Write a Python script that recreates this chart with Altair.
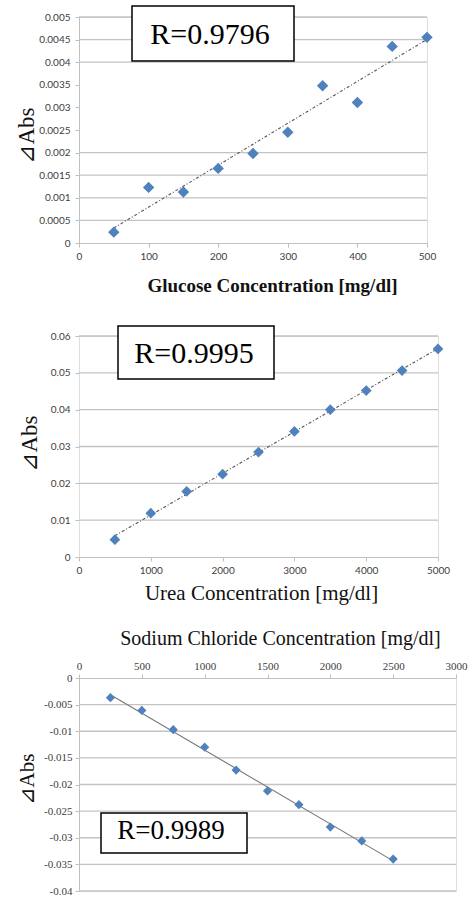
import altair as alt
import pandas as pd

# ---------------- data ----------------
glucose_x = [50, 100, 150, 200, 250, 300, 350, 400, 450, 500]
glucose_y = [0.00024, 0.00123, 0.00113, 0.00165, 0.00198, 0.00245, 0.00348, 0.00311, 0.00435, 0.00455]

urea_x = [500, 1000, 1500, 2000, 2500, 3000, 3500, 4000, 4500, 5000]
urea_y = [0.0047, 0.0119, 0.0178, 0.0225, 0.0285, 0.0341, 0.0400, 0.0452, 0.0506, 0.0565]

nacl_x = [250, 500, 750, 1000, 1250, 1500, 1750, 2000, 2250, 2500]
nacl_y = [-0.0037, -0.0061, -0.0097, -0.0130, -0.0173, -0.0212, -0.0238, -0.0280, -0.0306, -0.0340]

glucose_yticks = [0, 0.0005, 0.001, 0.0015, 0.002, 0.0025, 0.003, 0.0035, 0.004, 0.0045, 0.005]
glucose_grid = [0.0005, 0.001, 0.0015, 0.002, 0.004, 0.0045, 0.005]
glucose_xticks = [0, 100, 200, 300, 400, 500]

urea_yticks = [0, 0.01, 0.02, 0.03, 0.04, 0.05, 0.06]
urea_grid = [0.01, 0.02, 0.03, 0.04, 0.05, 0.06]
urea_xticks = [0, 1000, 2000, 3000, 4000, 5000]

nacl_yticks = [0, -0.005, -0.01, -0.015, -0.02, -0.025, -0.03, -0.035, -0.04]
nacl_grid = [-0.005, -0.01, -0.015, -0.02, -0.025, -0.03, -0.035, -0.04]
nacl_xticks = [0, 500, 1000, 1500, 2000, 2500, 3000]

r_labels = ["R=0.9796", "R=0.9995", "R=0.9989"]
x_titles = ["Glucose Concentration [mg/dl]", "Urea Concentration [mg/dl]",
            "Sodium Chloride Concentration [mg/dl]"]
y_title = "⊿Abs"

BLUE = "#4F81BD"
GRID = "#C3C3C3"
SANS = "Lato"
SERIF = "Times New Roman, Liberation Serif, DejaVu Serif, serif"


def panel(xs, ys, xdom, ydom, xticks, yticks, grid, xtitle, rlabel,
          width, height, xaxis_kw, yaxis_kw, pt_size, trend_dash, trend_color,
          box, text_pos, text_size, label_font, label_size):
    pts = pd.DataFrame({"x": xs, "y": ys})
    gdf = pd.DataFrame({"y": grid})
    rdf = pd.DataFrame({"label": [rlabel]})

    xscale = alt.Scale(domain=xdom, nice=False, zero=False)
    yscale = alt.Scale(domain=ydom, nice=False, zero=False)

    xaxis = alt.Axis(values=xticks, format="d", grid=False, labelFlush=False,
                     labelFont=label_font, labelFontSize=label_size, labelColor="#404040",
                     tickColor="#BFBFBF", domainColor="#BFBFBF", tickSize=4,
                     titleFont=SERIF, titleColor="#111111", titleAlign="center",
                     titleBaseline="middle", **xaxis_kw)
    yaxis = alt.Axis(values=yticks, labelExpr="'' + datum.value", grid=False,
                     labelFont=label_font, labelFontSize=label_size, labelColor="#404040",
                     tickColor="#BFBFBF", domainColor="#BFBFBF", tickSize=4,
                     titleFont=SERIF, titleColor="#111111", titleAngle=270,
                     titleAlign="center", titleBaseline="middle", titleFontWeight="normal",
                     **yaxis_kw)

    xenc = alt.X("x:Q", scale=xscale, axis=xaxis, title=xtitle)
    yenc = alt.Y("y:Q", scale=yscale, axis=yaxis, title=y_title)

    gridl = alt.Chart(gdf).mark_rule(color=GRID, strokeWidth=1.3).encode(y=yenc)

    trend = alt.Chart(pts).transform_regression("x", "y").mark_line(
        color=trend_color, strokeWidth=1.1, **({"strokeDash": trend_dash} if trend_dash else {})
    ).encode(x=xenc, y=yenc)

    points = alt.Chart(pts).mark_point(shape="diamond", filled=True, size=pt_size,
                                       color=BLUE, opacity=1).encode(x=xenc, y=yenc)

    rect = alt.Chart(rdf).mark_rect(fill="white", stroke="black", strokeWidth=1.5).encode(
        x=alt.value(box[0]), x2=alt.value(box[1]), y=alt.value(box[2]), y2=alt.value(box[3]))
    txt = alt.Chart(rdf).mark_text(font=SERIF, fontSize=text_size, color="black",
                                   align="center", baseline="alphabetic").encode(
        x=alt.value(text_pos[0]), y=alt.value(text_pos[1]), text="label:N")

    return alt.layer(gridl, trend, points, rect, txt).properties(width=width, height=height)


c1 = panel(glucose_x, glucose_y, [0, 500], [0, 0.005], glucose_xticks, glucose_yticks,
           glucose_grid, x_titles[0], r_labels[0], 348, 226,
           dict(labelPadding=4, titleFontSize=19, titleFontWeight="bold", titleX=193, titleY=42),
           dict(labelPadding=5, titleFontSize=23, titleX=-53, titleY=118),
           130, [3, 2, 1, 2], "#555555",
           (53, 215, -11, 44), (131, 27), 30, SANS, 10)

c2 = panel(urea_x, urea_y, [0, 5000], [0, 0.06], urea_xticks, urea_yticks,
           urea_grid, x_titles[1], r_labels[1], 359, 221,
           dict(labelPadding=4, titleFontSize=21, titleFontWeight="normal", titleX=182, titleY=36),
           dict(labelPadding=5, titleFontSize=23, titleX=-50, titleY=107, domain=False),
           115, [3, 2, 1, 2], "#555555",
           (39, 195, -10, 43), (115, 27), 30, SANS, 10)

c3 = panel(nacl_x, nacl_y, [0, 3000], [-0.04, 0], nacl_xticks, nacl_yticks,
           nacl_grid, x_titles[2], r_labels[2], 377, 213,
           dict(orient="top", labelPadding=3, titleFontSize=20, titleFontWeight="normal",
                titleX=201, titleY=-40),
           dict(labelPadding=3, titleFontSize=21, titleX=-52, titleY=101),
           85, None, "#777777",
           (22, 168, 135, 175), (92, 161), 27, SERIF, 11)

chart = alt.vconcat(alt.vconcat(c1, c2, spacing=28), c3, spacing=23).properties(
    padding={"left": 14, "top": 4, "right": 0, "bottom": 0}
).configure_view(strokeWidth=0).configure(background="white")

chart.save("out.html", embed_options={"renderer": "svg", "actions": False})
